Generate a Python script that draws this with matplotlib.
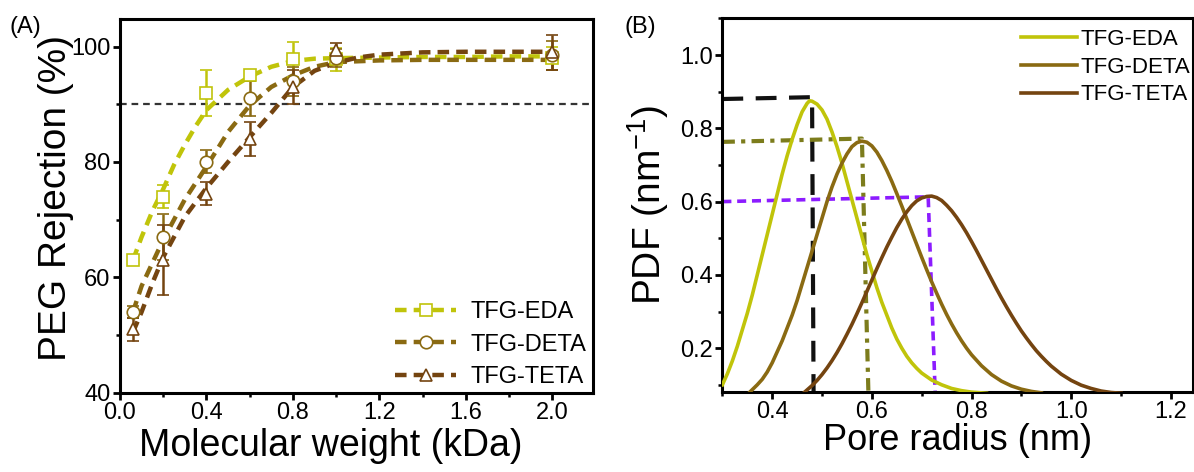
import matplotlib.pyplot as plt
from matplotlib.lines import Line2D
from matplotlib.ticker import MultipleLocator

plt.rcParams['font.family'] = ['Liberation Sans', 'DejaVu Sans']
plt.rcParams['mathtext.default'] = 'regular'

# ---- panel A: PEG rejection data ----
mw = [0.06, 0.2, 0.4, 0.6, 0.8, 1.0, 2.0]
eda_rej = [63, 74, 92, 95, 97.8, 97.8, 98]
eda_err = [0.8, 2, 4, 1, 3, 2, 2]
deta_rej = [54, 67, 80, 91, 94, 98, 98.5]
deta_err = [1, 4, 2, 3, 2.5, 1.5, 2.5]
teta_rej = [51, 63, 74.5, 84, 93, 99.4, 99]
teta_err = [2, 6, 2, 3, 3, 1.2, 3]

# fitted curves
eda_fit_x = [0.06, 0.1, 0.15, 0.2, 0.25, 0.3, 0.35, 0.4, 0.5, 0.6, 0.7, 0.8, 0.9, 1.0, 1.2, 1.4, 1.6, 1.8, 2.0]
eda_fit_y = [63, 67, 71.5, 75.3, 79.5, 83, 86.2, 89, 92.5, 94.8, 96.5, 97.5, 97.9, 98.0, 98.1, 98.2, 98.2, 98.3, 98.3]
deta_fit_x = [0.06, 0.1, 0.15, 0.2, 0.3, 0.4, 0.5, 0.6, 0.7, 0.8, 0.9, 1.0, 1.2, 1.4, 1.6, 1.8, 2.0]
deta_fit_y = [54, 58.5, 62.5, 66.5, 73.5, 79.2, 85.2, 89.8, 93, 95, 96.5, 97.3, 97.6, 97.7, 97.7, 97.7, 97.7]
teta_fit_x = [0.06, 0.1, 0.15, 0.2, 0.3, 0.4, 0.5, 0.6, 0.7, 0.8, 0.9, 1.0, 1.1, 1.2, 1.4, 1.6, 1.8, 2.0]
teta_fit_y = [50.5, 54, 59, 63.5, 70.5, 75.5, 80, 84.3, 88.5, 93, 95.8, 97.2, 98.1, 98.6, 99.0, 99.1, 99.1, 99.1]

# ---- panel B: pore size distributions ----
eda_r = [0.30, 0.31, 0.32, 0.33, 0.34, 0.35, 0.36, 0.37, 0.38, 0.39, 0.40, 0.41, 0.42, 0.43, 0.44,
         0.45, 0.46, 0.47, 0.475, 0.48, 0.49, 0.50, 0.51, 0.52, 0.53, 0.54, 0.55, 0.56, 0.57, 0.58,
         0.59, 0.60, 0.61, 0.62, 0.63, 0.64, 0.65, 0.66, 0.67, 0.68, 0.69, 0.70, 0.72, 0.74, 0.76,
         0.78, 0.80, 0.83]
eda_pdf = [0.10, 0.13, 0.165, 0.205, 0.25, 0.295, 0.345, 0.40, 0.455, 0.51, 0.565, 0.62, 0.675, 0.725, 0.77,
           0.81, 0.845, 0.868, 0.875, 0.874, 0.866, 0.85, 0.825, 0.79, 0.75, 0.705, 0.655, 0.605, 0.555, 0.505,
           0.455, 0.41, 0.365, 0.325, 0.29, 0.255, 0.225, 0.20, 0.178, 0.16, 0.145, 0.132, 0.113, 0.10, 0.09,
           0.084, 0.08, 0.077]
deta_r = [0.355, 0.37, 0.38, 0.39, 0.40, 0.41, 0.42, 0.43, 0.44, 0.45, 0.46, 0.47, 0.48, 0.49, 0.50,
          0.51, 0.52, 0.53, 0.54, 0.55, 0.56, 0.57, 0.58, 0.59, 0.60, 0.61, 0.62, 0.63, 0.64, 0.65,
          0.66, 0.67, 0.68, 0.69, 0.70, 0.71, 0.72, 0.73, 0.74, 0.75, 0.76, 0.77, 0.78, 0.79, 0.80,
          0.82, 0.84, 0.86, 0.88, 0.90, 0.92, 0.94]
deta_pdf = [0.08, 0.10, 0.115, 0.135, 0.16, 0.19, 0.22, 0.255, 0.29, 0.33, 0.375, 0.42, 0.465, 0.51, 0.555,
            0.60, 0.64, 0.675, 0.705, 0.73, 0.75, 0.761, 0.765, 0.762, 0.752, 0.735, 0.712, 0.685, 0.655, 0.622,
            0.588, 0.553, 0.518, 0.483, 0.448, 0.414, 0.381, 0.35, 0.32, 0.292, 0.266, 0.242, 0.22, 0.20, 0.182,
            0.152, 0.128, 0.11, 0.097, 0.088, 0.082, 0.078]
teta_r = [0.465, 0.48, 0.49, 0.50, 0.51, 0.52, 0.53, 0.54, 0.55, 0.56, 0.57, 0.58, 0.59, 0.60, 0.61,
          0.62, 0.63, 0.64, 0.65, 0.66, 0.67, 0.68, 0.69, 0.70, 0.71, 0.72, 0.73, 0.74, 0.75, 0.76,
          0.77, 0.78, 0.79, 0.80, 0.81, 0.82, 0.83, 0.84, 0.85, 0.86, 0.87, 0.88, 0.89, 0.90, 0.91,
          0.92, 0.93, 0.94, 0.95, 0.96, 0.98, 1.00, 1.02, 1.04, 1.06, 1.08, 1.10]
teta_pdf = [0.08, 0.098, 0.112, 0.128, 0.146, 0.166, 0.188, 0.212, 0.238, 0.265, 0.294, 0.324, 0.355, 0.386, 0.417,
            0.447, 0.476, 0.503, 0.529, 0.552, 0.572, 0.589, 0.602, 0.61, 0.614, 0.615, 0.611, 0.603, 0.59, 0.575,
            0.557, 0.537, 0.515, 0.491, 0.466, 0.44, 0.414, 0.388, 0.362, 0.337, 0.313, 0.29, 0.268, 0.247, 0.228,
            0.21, 0.193, 0.178, 0.164, 0.151, 0.129, 0.112, 0.099, 0.09, 0.083, 0.079, 0.077]

# guide lines marking the peaks (corner points)
eda_guide_x = [0.30, 0.48, 0.483]
eda_guide_y = [0.88, 0.885, 0.08]
deta_guide_x = [0.30, 0.58, 0.593]
deta_guide_y = [0.763, 0.772, 0.08]
teta_guide_x = [0.30, 0.713, 0.727]
teta_guide_y = [0.60, 0.613, 0.08]

labels = ['TFG-EDA', 'TFG-DETA', 'TFG-TETA']
c_eda = '#c0c40a'
c_deta = '#8a6a12'
c_teta = '#744410'

fig = plt.figure(figsize=(11.94, 4.72), dpi=100)
ax1 = fig.add_axes([0.1005, 0.168, 0.3965, 0.792])
ax2 = fig.add_axes([0.605, 0.17, 0.394, 0.791])

# panel A
ax1.axhline(90, color='#333333', lw=1.6, ls=(0, (3, 2.2)), zorder=1)
series = [(eda_fit_x, eda_fit_y, eda_rej, eda_err, c_eda, 's'),
          (deta_fit_x, deta_fit_y, deta_rej, deta_err, c_deta, 'o'),
          (teta_fit_x, teta_fit_y, teta_rej, teta_err, c_teta, '^')]
handles = []
for (fx, fy, y, err, c, m), lab in zip(series, labels):
    ax1.plot(fx, fy, color=c, lw=3.2, ls=(0, (2.6, 1.6)), zorder=2)
    ax1.errorbar(mw, y, yerr=err, fmt=m, ms=9, mfc='white', mec=c, mew=1.2,
                 ecolor=c, elinewidth=1.8, capsize=4, capthick=1.8, zorder=3)
    handles.append(Line2D([], [], color=c, lw=3.2, ls=(0, (2.6, 1.6)), marker=m,
                          ms=9, mfc='white', mec=c, mew=1.2))
ax1.legend(handles, labels, loc='lower right', frameon=False, fontsize=17,
           handlelength=2.6, handletextpad=0.6, labelspacing=0.45,
           bbox_to_anchor=(1.03, -0.045))
ax1.set_xlim(0, 2.19)
ax1.set_ylim(40, 104.8)
ax1.xaxis.set_major_locator(MultipleLocator(0.4))
ax1.xaxis.set_minor_locator(MultipleLocator(0.2))
ax1.yaxis.set_major_locator(MultipleLocator(20))
ax1.yaxis.set_minor_locator(MultipleLocator(10))
ax1.xaxis.set_major_formatter(plt.FormatStrFormatter('%.1f'))
ax1.set_xlabel('Molecular weight (kDa)', fontsize=27)
ax1.set_ylabel('PEG Rejection (%)', fontsize=28)
ax1.xaxis.set_label_coords(0.445, -0.095)
ax1.yaxis.set_label_coords(-0.097, 0.52)
fig.text(0.008, 0.93, '(A)', fontsize=17)

# panel B
for r, p, c, lab in zip([eda_r, deta_r, teta_r], [eda_pdf, deta_pdf, teta_pdf],
                        [c_eda, c_deta, c_teta], labels):
    ax2.plot(r, p, color=c, lw=2.6, label=lab, zorder=3)
ax2.plot(eda_guide_x, eda_guide_y, color='#111111', lw=3, ls=(0, (5, 3)), zorder=2)
ax2.plot(deta_guide_x, deta_guide_y, color='#7c7c1c', lw=3, ls=(0, (3, 1.5, 1, 1.5)), zorder=2)
ax2.plot(teta_guide_x, teta_guide_y, color='#8c1cff', lw=2.6, ls=(0, (2.5, 1.6)), zorder=2)
ax2.legend(loc='upper right', frameon=False, fontsize=16, handlelength=2.5,
           handletextpad=0.15, labelspacing=0.3, borderaxespad=0.2,
           bbox_to_anchor=(1.022, 1.007))
ax2.set_xlim(0.3, 1.244)
ax2.set_ylim(0.081, 1.1)
ax2.xaxis.set_major_locator(MultipleLocator(0.2))
ax2.xaxis.set_minor_locator(MultipleLocator(0.1))
ax2.yaxis.set_major_locator(MultipleLocator(0.2))
ax2.yaxis.set_minor_locator(MultipleLocator(0.1))
ax2.xaxis.set_major_formatter(plt.FormatStrFormatter('%.1f'))
ax2.yaxis.set_major_formatter(plt.FormatStrFormatter('%.1f'))
ax2.set_xlabel('Pore radius (nm)', fontsize=26, labelpad=0)
ax2.set_ylabel('PDF (nm$^{-1}$)', fontsize=28, labelpad=6)
fig.text(0.523, 0.93, '(B)', fontsize=17)

for ax in (ax1, ax2):
    for s in ax.spines.values():
        s.set_linewidth(2.2)
    ax.tick_params(which='major', direction='out', length=5, width=2, labelsize=17, pad=2)
    ax.tick_params(which='minor', direction='out', length=3, width=1.8)

fig.savefig('out.png', dpi=100)
